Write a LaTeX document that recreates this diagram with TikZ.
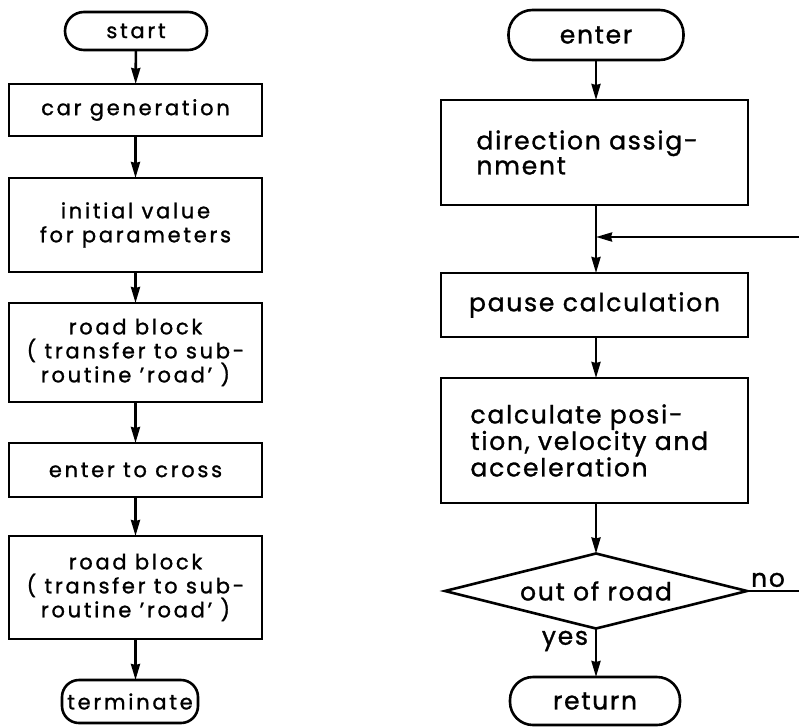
\documentclass[tikz,border=0pt]{standalone}
\usepackage{fontspec}
\setmainfont{Poppins}[FakeBold=1.2]
\usetikzlibrary{shapes.geometric,arrows.meta}
\newcommand{\lfont}{\fontsize{21}{24}\selectfont\addfontfeatures{LetterSpace=13}}
\newcommand{\rfont}{\fontsize{25}{25}\selectfont\addfontfeatures{LetterSpace=7}}
\begin{document}
\begin{tikzpicture}[x=1pt,y=-1pt, line width=2.6pt,
  every node/.style={inner sep=0pt, outer sep=0pt},
  lbox/.style={draw, rectangle, minimum width=253pt, align=center, font=\lfont},
  rbox/.style={draw, rectangle, minimum width=307pt, font=\rfont},
  term/.style={draw, rectangle, rounded corners=19pt, align=center},
  dec/.style={draw, diamond, aspect=4, minimum width=302pt, minimum height=75pt, font=\rfont},
  lab/.style={font=\rfont},
  arr/.style={-{Stealth[length=16pt,width=9pt,inset=1pt]}}]
\useasboundingbox (0,0) rectangle (799,726);
% left column
\node[term, minimum width=142pt, minimum height=38pt, font=\lfont] (start) at (136,31) {start};
\node[lbox, minimum height=52pt] (car) at (135.5,110) {car generation};
\node[lbox, minimum height=94pt] (init) at (135.5,225) {initial value\\for parameters};
\node[lbox, minimum height=99pt] (road1) at (135.5,352.5) {road block\\( transfer to sub-\\routine 'road' )};
\node[lbox, minimum height=54pt] (cross) at (135.5,470) {enter to cross};
\node[lbox, minimum height=103pt] (road2) at (135.5,587.5) {road block\\( transfer to sub-\\routine 'road' )};
\node[term, minimum width=136pt, minimum height=43pt, rounded corners=17pt, font=\lfont] (termin) at (130,701.5) {terminate};
\draw[arr] (start) -- (car);
\draw[arr] (car) -- (init);
\draw[arr] (init) -- (road1);
\draw[arr] (road1) -- (cross);
\draw[arr] (cross) -- (road2);
\draw[arr] (road2.south) -- (road2.south |- termin.north);
% right column
\node[term, minimum width=175pt, minimum height=50pt, rounded corners=24pt, font=\rfont] (enter) at (596,35) {enter};
\node[rbox, minimum height=105pt, text width=236pt, align=left] (dir) at (594.5,152.5) {direction assig-\\nment};
\node[rbox, minimum height=64pt, align=center] (pause) at (594.5,305) {pause calculation};
\node[rbox, minimum height=125pt, text width=248pt, align=left] (calc) at (594.5,440.5) {calculate posi-\\tion, velocity and\\acceleration};
\node[dec] (out) at (596,591) {out of road};
\node[term, minimum width=170pt, minimum height=48pt, rounded corners=23pt, font=\rfont] (ret) at (595,701) {return};
\coordinate (merge) at (596,237);
\coordinate (loopin) at (799,237);
\coordinate (loopout) at (799,591);
\draw[arr] (enter) -- (enter |- dir.north);
\draw[arr] (dir.south -| merge) -- (pause.north -| merge);
\draw[arr] (loopin) -- (merge);
\draw[arr] (pause.south -| merge) -- (calc.north -| merge);
\draw[arr] (calc.south -| out.north) -- (out.north);
\draw[arr] (out.south) -- (out.south |- ret.north);
\draw (out.east) -- (loopout);
\node[lab, anchor=south] (no) at (768,587) {no};
\node[lab, anchor=east] (yes) at (588,641) {yes};
\end{tikzpicture}
\end{document}
